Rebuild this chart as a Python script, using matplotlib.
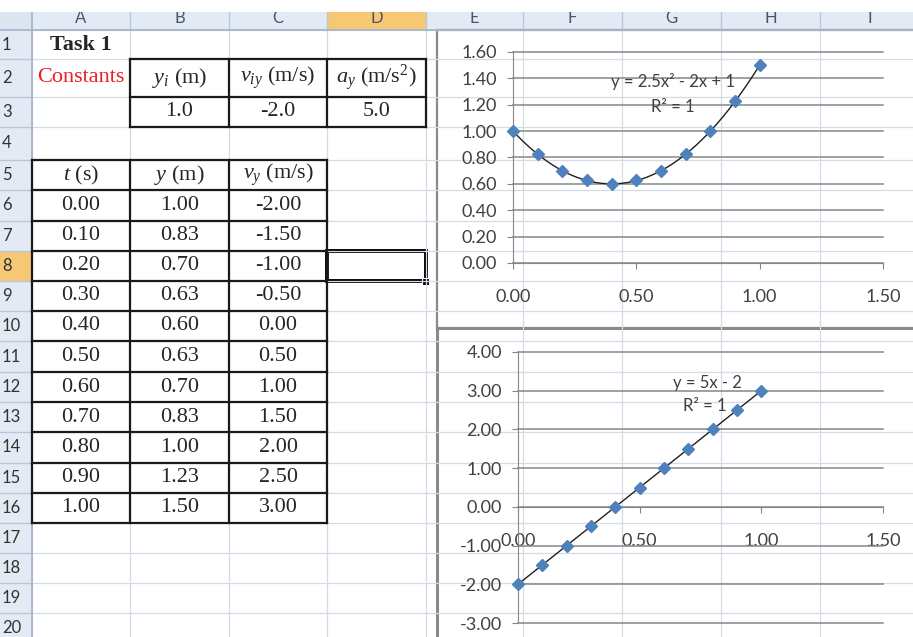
import numpy as np
import matplotlib.pyplot as plt
from matplotlib.patches import Rectangle

# data from the sheet
t = [0.00, 0.10, 0.20, 0.30, 0.40, 0.50, 0.60, 0.70, 0.80, 0.90, 1.00]
y = [1.00, 0.83, 0.70, 0.63, 0.60, 0.63, 0.70, 0.83, 1.00, 1.23, 1.50]
vy = [-2.00, -1.50, -1.00, -0.50, 0.00, 0.50, 1.00, 1.50, 2.00, 2.50, 3.00]
const_labels = [r'$y_i$ (m)', r'$v_{iy}$ (m/s)', r'$a_y$ (m/s$^2$)']
const_values = [1.0, -2.0, 5.0]
col_labels = [r'$t$ (s)', r'$y$ (m)', r'$v_y$ (m/s)']
y_fit = [2.5, -2.0, 1.0]
vy_fit = [5.0, -2.0]
col_letters = list('ABCDEFGHI')

plt.rcParams.update({
    'mathtext.fontset': 'custom',
    'mathtext.rm': 'Liberation Serif',
    'mathtext.it': 'Liberation Serif:italic',
    'font.family': 'Lato',
})

W, H = 913, 637
fig = plt.figure(figsize=(W / 100, H / 100), dpi=100)
fig.patch.set_facecolor('white')

# sheet drawn in pixel coordinates
sh = fig.add_axes([0, 0, 1, 1])
sh.set_xlim(0, W)
sh.set_ylim(H, 0)
sh.axis('off')

col_x = [32, 130, 229, 327, 426, 523, 622, 721, 820, 919]
row_y = [30, 59, 97, 127, 160, 190, 221, 251, 281, 311, 341, 372, 402,
         432, 463, 493, 523, 553, 583, 613, 643]
grid_c = '#d4dbe6'

for x in col_x:
    sh.plot([x, x], [30, H], color=grid_c, lw=0.9)
for yy in row_y:
    sh.plot([32, W], [yy, yy], color=grid_c, lw=0.9)

# column header
sh.add_patch(Rectangle((0, 11), W, 19, facecolor='#e3eaf4', edgecolor='none'))
for i, letter in enumerate(col_letters):
    x0, x1 = col_x[i], col_x[i + 1]
    if letter == 'D':
        sh.add_patch(Rectangle((x0, 11), x1 - x0, 19, facecolor='#f7c873', edgecolor='none'))
    sh.plot([x1, x1], [11, 30], color='#b9c7d9', lw=1)
    sh.text((x0 + x1) / 2, 18, letter, ha='center', va='center', fontsize=12,
            color='#4a5568')
sh.add_patch(Rectangle((0, 0), W, 12, facecolor='white', edgecolor='none', zorder=3))
sh.plot([0, W], [30, 30], color='#9eb3cc', lw=1.2)

# row header
sh.add_patch(Rectangle((0, 30), 32, H - 30, facecolor='#e3eaf4', edgecolor='none'))
for r in range(20):
    y0, y1 = row_y[r], row_y[r + 1]
    if r + 1 == 8:
        sh.add_patch(Rectangle((0, y0), 32, y1 - y0, facecolor='#f7c873', edgecolor='none'))
    sh.plot([0, 32], [y1, y1], color='#b9c7d9', lw=1)
    sh.text(2, (y0 + y1) / 2, str(r + 1), ha='left', va='center', fontsize=12,
            color='#333333')
sh.plot([32, 32], [11, H], color='#9eb3cc', lw=1.2)
sh.add_patch(Rectangle((0, 11), 32, 19, facecolor='#dde5f0', edgecolor='none'))


def cx(c):
    return (col_x[c] + col_x[c + 1]) / 2


def cy(r):
    return (row_y[r - 1] + row_y[r]) / 2


serif = 'Liberation Serif'
txt_c = '#262626'
fs = 16

sh.text(cx(0), cy(1), 'Task 1', ha='center', va='center', fontsize=fs,
        fontweight='bold', family=serif, color=txt_c)
sh.text(cx(0), cy(2), 'Constants', ha='center', va='center', fontsize=fs,
        family=serif, color='#ee1c25')
for i in range(3):
    sh.text(cx(i + 1), cy(2), const_labels[i], ha='center', va='center',
            fontsize=fs, family=serif, color=txt_c)
    sh.text(cx(i + 1), cy(3), f'{const_values[i]:.1f}', ha='center', va='center',
            fontsize=fs, family=serif, color=txt_c)
for i in range(3):
    sh.text(cx(i), cy(5), col_labels[i], ha='center', va='center',
            fontsize=fs, family=serif, color=txt_c)
for k in range(len(t)):
    for i, col in enumerate([t, y, vy]):
        sh.text(cx(i), cy(6 + k), f'{col[k]:.2f}', ha='center', va='center',
                fontsize=fs, family=serif, color=txt_c)

# table borders
bc = '#1a1a1a'
for yy in [row_y[1], row_y[2], row_y[3]]:
    sh.plot([col_x[1], col_x[4]], [yy, yy], color=bc, lw=1.6)
for x in col_x[1:5]:
    sh.plot([x, x], [row_y[1], row_y[3]], color=bc, lw=1.6)
for yy in row_y[4:17]:
    sh.plot([col_x[0], col_x[3]], [yy, yy], color=bc, lw=1.6)
for x in col_x[0:4]:
    sh.plot([x, x], [row_y[4], row_y[16]], color=bc, lw=1.6)

# selected cell D8
sh.add_patch(Rectangle((col_x[3], row_y[7]), col_x[4] - col_x[3], row_y[8] - row_y[7],
                       facecolor='none', edgecolor='black', lw=2.8))
sh.add_patch(Rectangle((col_x[4] - 4, row_y[8] - 3), 7, 7, facecolor='black',
                       edgecolor='white', lw=0.8))

# chart frames
sh.add_patch(Rectangle((437, 30), 500, 298, facecolor='white', edgecolor='#8a8a8a', lw=1.6))
sh.add_patch(Rectangle((437, 328), 500, 330, facecolor='white', edgecolor='#8a8a8a', lw=2.2))

axis_c = '#868686'
lab_c = '#404040'
mk_c = '#4f81bd'


def style_chart(ax, yticks):
    ax.set_facecolor('none')
    ax.spines['top'].set_visible(False)
    ax.spines['right'].set_visible(False)
    ax.spines['left'].set_color(axis_c)
    ax.spines['bottom'].set_color(axis_c)
    ax.set_xticks([0, 0.5, 1.0, 1.5])
    ax.set_xticklabels([f'{v:.2f}' for v in [0, 0.5, 1.0, 1.5]])
    ax.set_yticks(yticks)
    ax.set_yticklabels([f'{v:.2f}' for v in yticks])
    ax.tick_params(axis='x', direction='out', length=4, color=axis_c,
                   labelsize=13, labelcolor=lab_c, pad=15)
    ax.tick_params(axis='y', direction='out', length=4, color=axis_c,
                   labelsize=13, labelcolor=lab_c, pad=7.5)
    ax.yaxis.grid(True, color=axis_c, lw=1.1)
    for gl in ax.get_ygridlines():
        gl.set_clip_on(False)
    ax.set_axisbelow(True)


xs = np.linspace(0, 1, 200)

# chart 1: y vs t
ax1 = fig.add_axes([513 / W, 1 - 263 / H, 370 / W, 211 / H])
ax1.set_xlim(0, 1.5)
ax1.set_ylim(0, 1.6)
style_chart(ax1, np.round(np.arange(0, 1.61, 0.2), 2))
ax1.plot(xs, np.polyval(y_fit, xs), color='#1f1f1f', lw=1, zorder=3)
ax1.plot(t, y, 'D', ms=6.5, color=mk_c, zorder=4, clip_on=False)
ax1.text(0.649, 1.373, 'y = 2.5x² - 2x + 1', ha='center', va='center',
         fontsize=12, color=lab_c)
ax1.text(0.649, 1.183, 'R² = 1', ha='center', va='center', fontsize=12, color=lab_c)

# chart 2: vy vs t
ax2 = fig.add_axes([518 / W, 1 - 623 / H, 365 / W, 271 / H])
ax2.set_xlim(0, 1.5)
ax2.set_ylim(-3, 4)
style_chart(ax2, np.arange(-3.0, 4.01, 1.0))
ax2.spines['bottom'].set_position(('data', 0))
ax2.plot(xs, np.polyval(vy_fit, xs), color='#1f1f1f', lw=1, zorder=3)
ax2.plot(t, vy, 'D', ms=6.5, color=mk_c, zorder=4, clip_on=False)
ax2.text(0.777, 3.20, 'y = 5x - 2', ha='center', va='center', fontsize=12, color=lab_c)
ax2.text(0.768, 2.605, 'R² = 1', ha='center', va='center', fontsize=12, color=lab_c)

fig.savefig('out.png', dpi=100)
